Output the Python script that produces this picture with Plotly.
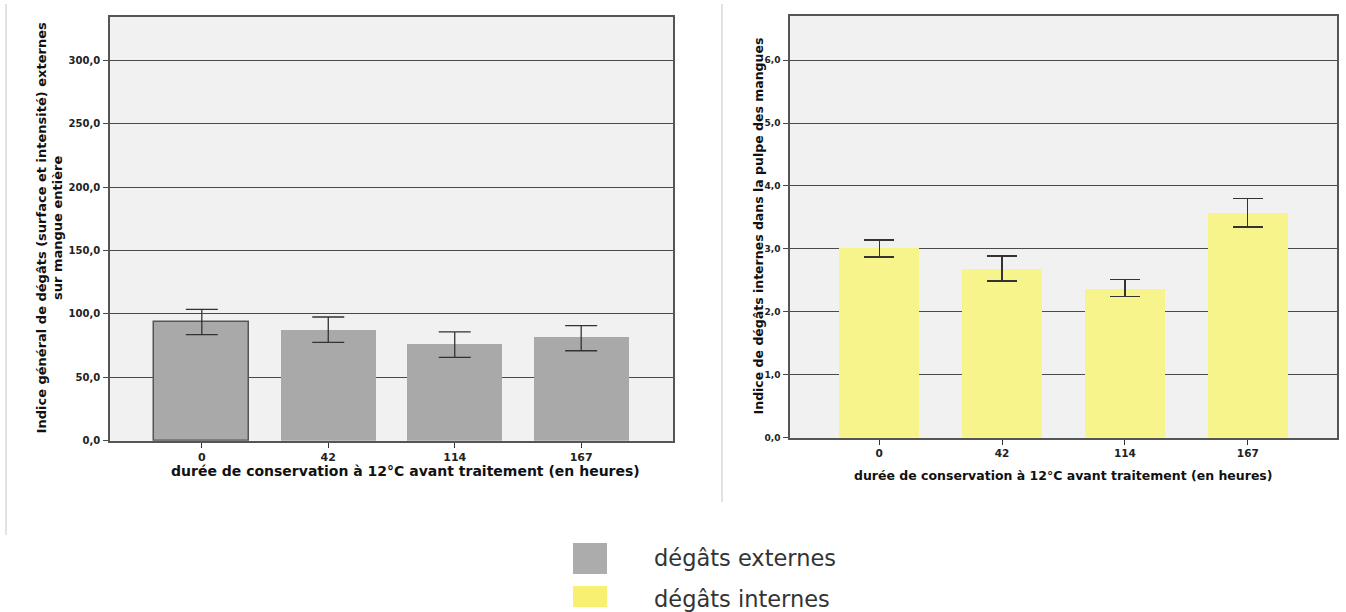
import plotly.graph_objects as go

# ---- data ----
categories = ["0", "42", "114", "167"]
ext_mean = [93.4, 87.6, 76.0, 81.5]
ext_err_plus = [10.2, 10.0, 9.8, 9.3]
ext_err_minus = [9.7, 10.0, 10.2, 10.5]
int_mean = [3.01, 2.68, 2.36, 3.57]
int_err_plus = [0.13, 0.21, 0.15, 0.23]
int_err_minus = [0.14, 0.19, 0.12, 0.22]
ext_ticks = [0, 50, 100, 150, 200, 250, 300]
ext_ticktext = ["0,0", "50,0", "100,0", "150,0", "200,0", "250,0", "300,0"]
int_ticks = [0, 1, 2, 3, 4, 5, 6]
int_ticktext = ["0,0", "1,0", "2,0", "3,0", "4,0", "5,0", "6,0"]
x_title = "durée de conservation à 12°C avant traitement (en heures)"
y_title_left = "Indice général de dégâts (surface et intensité) externes<br>sur mangue entière"
y_title_right = "Indice de dégâts internes dans la pulpe des mangues"
legend_labels = ["dégâts externes", "dégâts internes"]

W, H = 1346, 612
VS = 0.99  # vertical correction observed in rendering
GRAY = "#a9a9a9"
YELLOW = "#f8f48c"
GRID = "#4a4a4a"
AX = "#555555"
FONT = "DejaVu Sans, Verdana, sans-serif"

def px(x):
    return x / W

def py(y):
    return max(0.0, 1 - (y / VS) / H)

fig = go.Figure()
fig.add_trace(go.Bar(
    x=categories, y=ext_mean, xaxis="x", yaxis="y", width=0.75,
    marker=dict(color=GRAY, line=dict(color=["#555555", GRAY, GRAY, GRAY], width=[1.5, 0, 0, 0])),
    error_y=dict(type="data", symmetric=False, array=ext_err_plus, arrayminus=ext_err_minus,
                 color="#333333", thickness=1.3, width=16),
    showlegend=False, hoverinfo="skip"))
fig.add_trace(go.Bar(
    x=categories, y=int_mean, xaxis="x2", yaxis="y2", width=0.65,
    marker=dict(color=YELLOW, line=dict(width=0)),
    error_y=dict(type="data", symmetric=False, array=int_err_plus, arrayminus=int_err_minus,
                 color="#333333", thickness=1.3, width=15),
    showlegend=False, hoverinfo="skip"))

def tf(size):
    return dict(family=FONT, size=size, color="#222", weight="bold")

def xax(size):
    return dict(type="category", range=[-0.726, 3.726], showgrid=False, showline=True, mirror=True,
                linecolor=AX, linewidth=1.5, ticks="outside", ticklen=5, tickcolor="#333",
                tickfont=tf(size), zeroline=False)

def yax(size):
    return dict(showgrid=True, gridcolor=GRID, gridwidth=1, showline=True, mirror=True,
                linecolor=AX, linewidth=1.5, ticks="outside", ticklen=5, tickcolor=GRID,
                tickfont=tf(size), zeroline=False, ticklabelstandoff=1)

fig.update_layout(
    width=W, height=H, margin=dict(l=0, r=0, t=0, b=0),
    paper_bgcolor="white", plot_bgcolor="#f1f1f1",
    bargap=0,
    xaxis=dict(domain=[px(110), px(673)], anchor="y", **xax(11)),
    yaxis=dict(domain=[py(440), py(17)], anchor="x", range=[0, 334],
               tickvals=ext_ticks, ticktext=ext_ticktext, **yax(10)),
    xaxis2=dict(domain=[px(790), px(1337)], anchor="y2", **xax(10.5)),
    yaxis2=dict(domain=[py(437), py(16)], anchor="x2", range=[0, 6.70],
                tickvals=int_ticks, ticktext=int_ticktext, **yax(9)),
)

title_font = dict(family=FONT, size=14, color="#111", weight="bold")
ann = [
    dict(x=px(405), y=py(470), text=x_title, font=dict(title_font, size=14)),
    dict(x=px(1063), y=py(475), text=x_title, font=dict(title_font, size=12.5)),
    dict(x=px(50), y=py(228), text=y_title_left, textangle=-90,
         font=dict(title_font, size=13)),
    dict(x=px(758), y=py(226), text=y_title_right, textangle=-90,
         font=dict(title_font, size=12.5)),
    dict(x=px(652), y=py(557), text=legend_labels[0], xanchor="left",
         font=dict(family=FONT, size=22.5, color="#333")),
    dict(x=px(652), y=py(598), text=legend_labels[1], xanchor="left",
         font=dict(family=FONT, size=22.5, color="#333")),
]
for a in ann:
    a.setdefault("xanchor", "center")
    fig.add_annotation(xref="paper", yref="paper", yanchor="middle", showarrow=False, **a)

shapes = [
    dict(type="line", x0=px(6), x1=px(6), y0=py(4), y1=py(534), line=dict(color="#c4c4c4", width=1)),
    dict(type="line", x0=px(722), x1=px(722), y0=py(4), y1=py(501), line=dict(color="#c4c4c4", width=1)),
    dict(type="rect", x0=px(573), x1=px(607), y0=py(573), y1=py(542), fillcolor="#acacac", line=dict(width=0)),
    dict(type="rect", x0=px(573), x1=px(607), y0=0, y1=py(585), fillcolor="#f8f070", line=dict(width=0)),
]
for s in shapes:
    fig.add_shape(xref="paper", yref="paper", **s)

post = (
    "document.documentElement.style.margin='0';"
    "document.documentElement.style.overflow='hidden';"
    "document.body.style.margin='0';document.body.style.overflow='hidden';"
    "var gd=document.getElementById('{plot_id}');"
    "gd.parentElement.style.position='absolute';gd.parentElement.style.left='0px';"
    "gd.parentElement.style.top='0px';"
)
fig.write_html("out.html", config={"displayModeBar": False}, post_script=post)
